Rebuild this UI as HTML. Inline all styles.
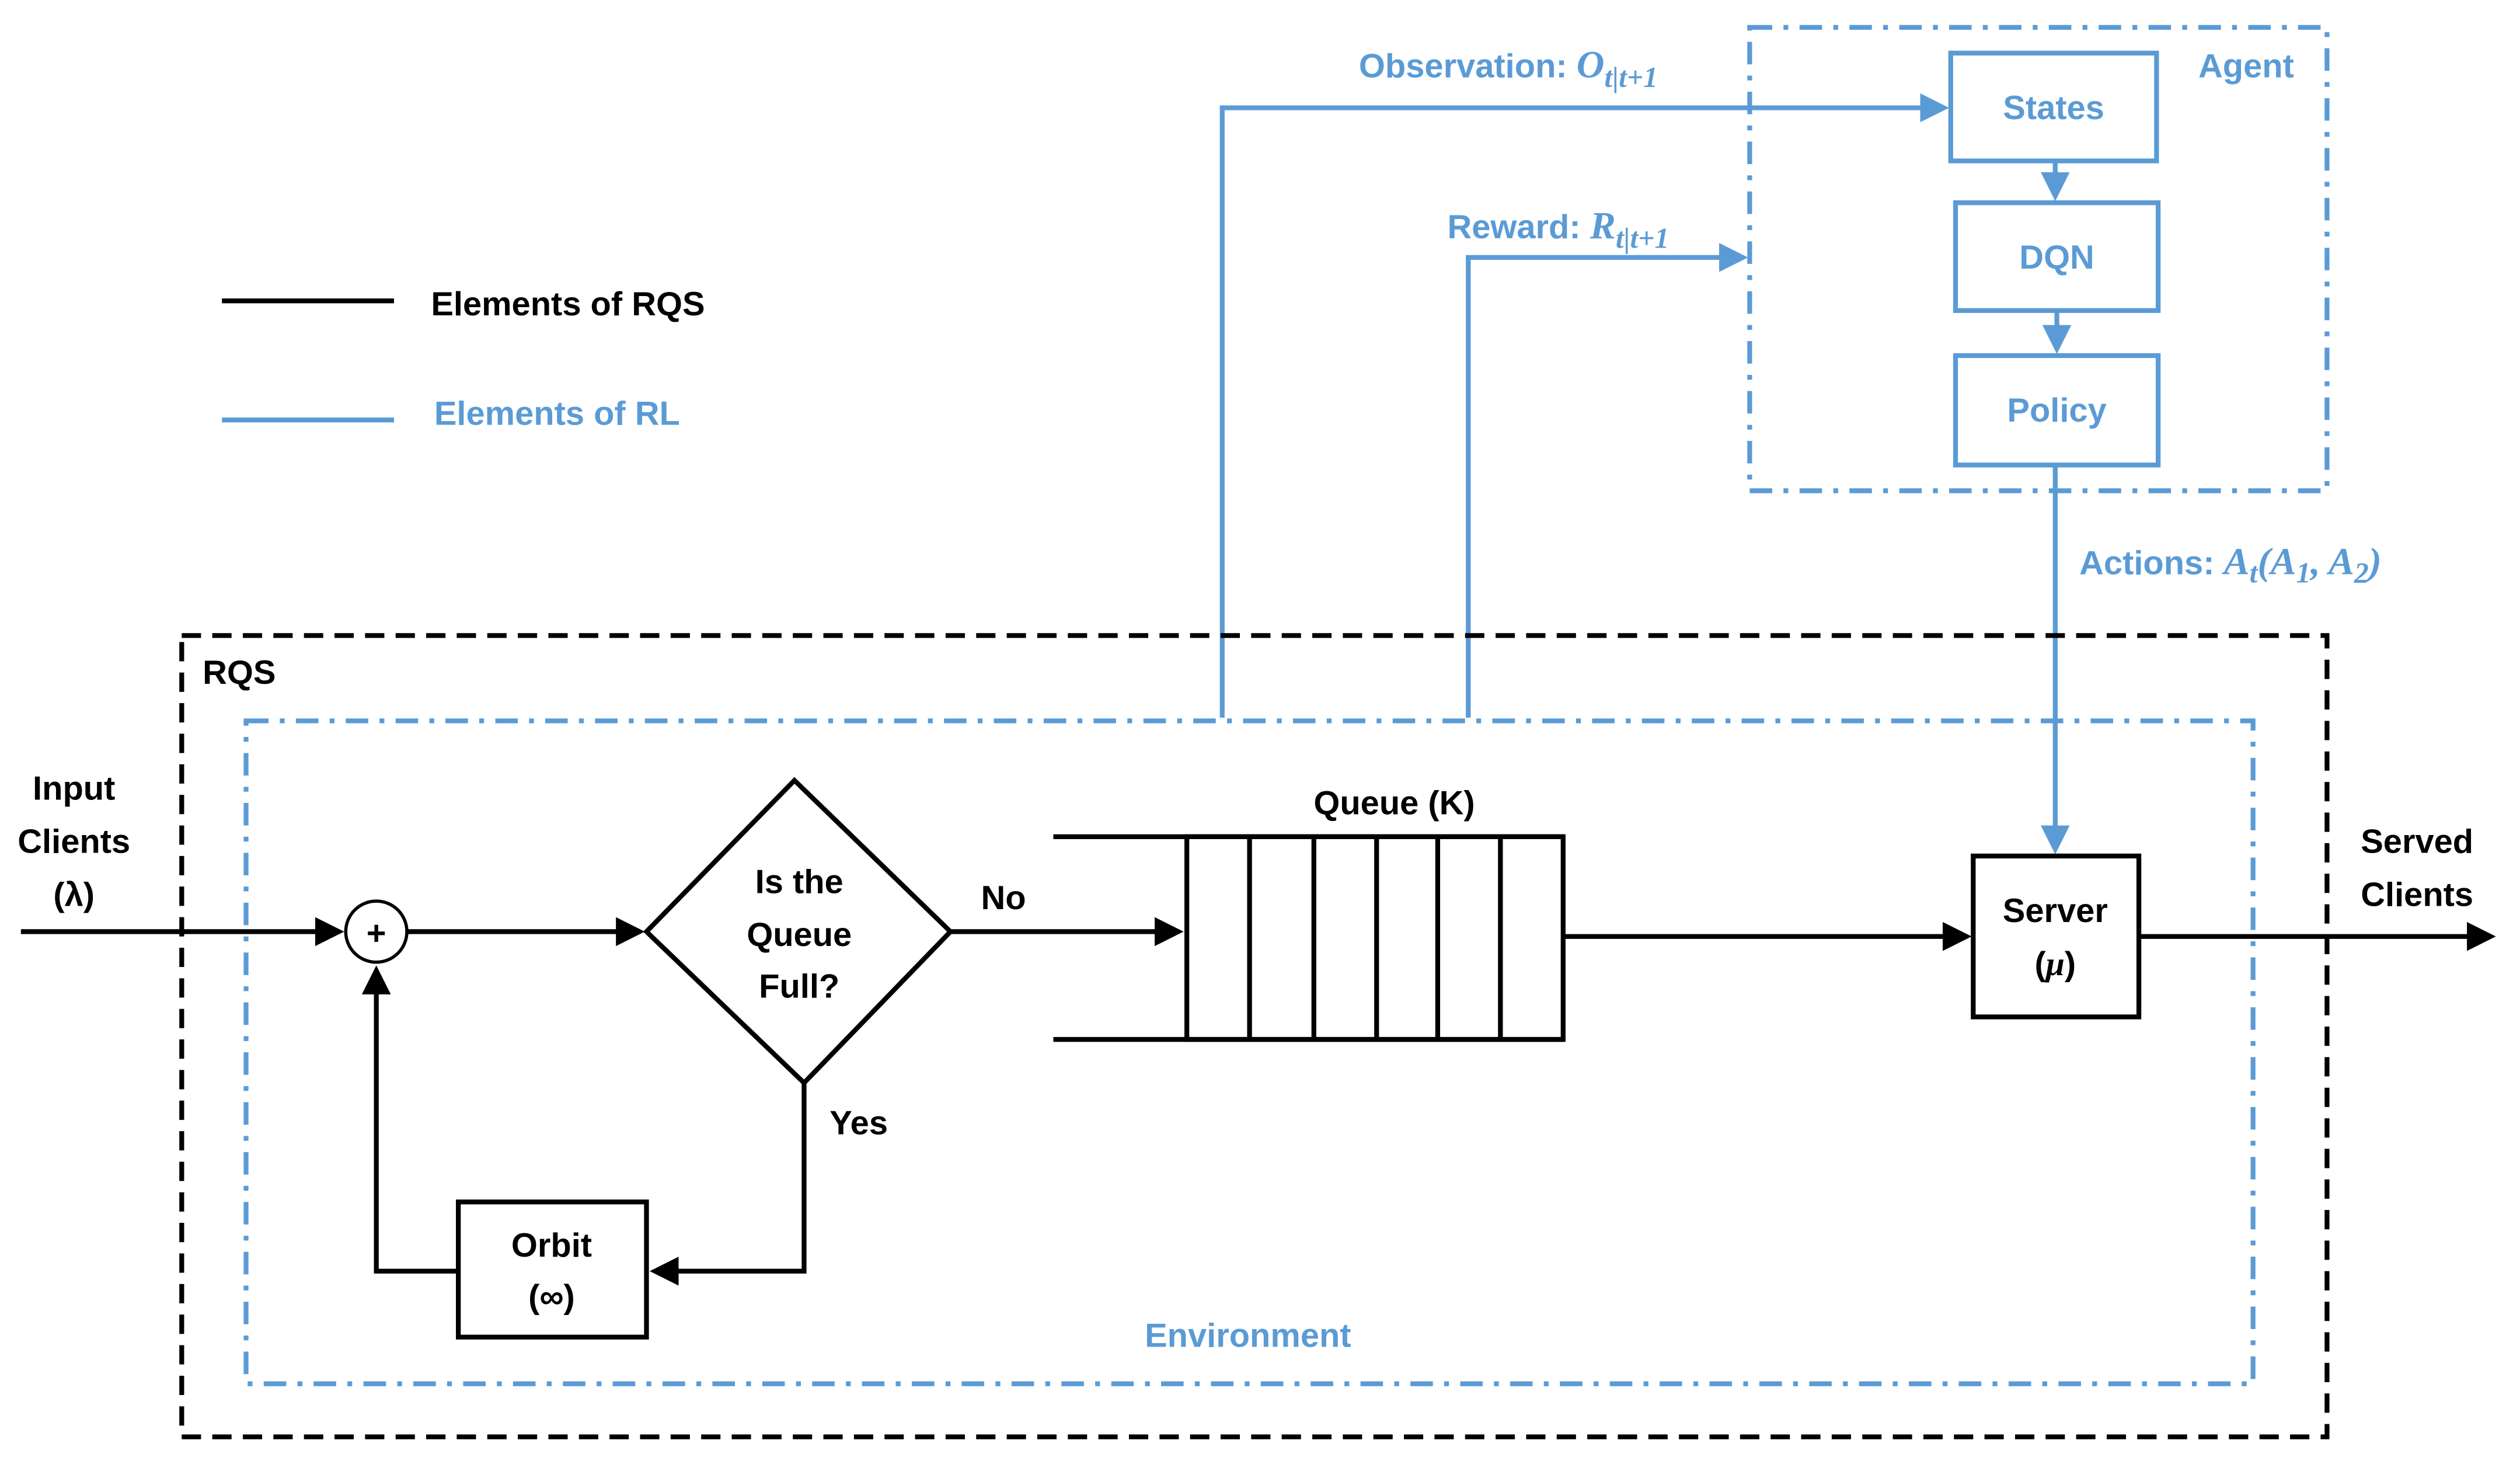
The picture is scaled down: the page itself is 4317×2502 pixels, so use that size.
<!DOCTYPE html>
<html><head><meta charset="utf-8"><style>
html,body{margin:0;padding:0;background:#fff;width:4317px;height:2502px;overflow:hidden}
svg{display:block}
text{font-family:"Liberation Sans",sans-serif;font-weight:bold;font-size:21px}
.m{font-family:"Liberation Serif",serif;font-style:italic;font-weight:bold}
</style></head><body>
<svg width="4317" height="2502" viewBox="0 0 1567 908" preserveAspectRatio="none" xmlns="http://www.w3.org/2000/svg">
<defs>
<marker id="ak" markerWidth="6" markerHeight="6" refX="5" refY="3" orient="auto" markerUnits="strokeWidth"><path d="M0,0 L6,3 L0,6 z" fill="#000"/></marker>
<marker id="ab" markerWidth="6" markerHeight="6" refX="5" refY="3" orient="auto" markerUnits="strokeWidth"><path d="M0,0 L6,3 L0,6 z" fill="#5b9bd5"/></marker>
</defs>
<rect width="1567" height="908" fill="#fff"/>
<!-- legend -->
<line x1="138" y1="187" x2="245" y2="187" stroke="#000" stroke-width="3"/>
<text x="268" y="196" fill="#000">Elements of RQS</text>
<line x1="138" y1="261" x2="245" y2="261" stroke="#5b9bd5" stroke-width="3"/>
<text x="270" y="264" fill="#5b9bd5">Elements of RL</text>
<!-- agent -->
<rect x="1088" y="17" width="359" height="288" fill="none" stroke="#5b9bd5" stroke-width="3" stroke-dasharray="14,7,3,7"/>
<text x="1367" y="48" fill="#5b9bd5">Agent</text>
<g fill="none" stroke="#5b9bd5" stroke-width="3">
<rect x="1213" y="33" width="128" height="67"/>
<rect x="1216" y="126" width="126" height="67"/>
<rect x="1216" y="221" width="126" height="68"/>
</g>
<g fill="#5b9bd5" text-anchor="middle">
<text x="1277" y="74">States</text>
<text x="1279" y="167">DQN</text>
<text x="1279" y="262">Policy</text>
</g>
<g stroke="#5b9bd5" stroke-width="3" fill="none">
<line x1="1278" y1="100" x2="1278" y2="122" marker-end="url(#ab)"/>
<line x1="1279" y1="193" x2="1279" y2="217" marker-end="url(#ab)"/>
<polyline points="760,446 760,67 1209,67" marker-end="url(#ab)"/>
<polyline points="913,446 913,160 1084,160" marker-end="url(#ab)"/>
<line x1="1278" y1="289" x2="1278" y2="528" marker-end="url(#ab)"/>
</g>
<text x="845" y="48" fill="#5b9bd5">Observation: <tspan class="m" font-size="24">O</tspan><tspan class="m" font-size="18" dy="6">t|t+1</tspan></text>
<text x="900" y="148" fill="#5b9bd5">Reward: <tspan class="m" font-size="24">R</tspan><tspan class="m" font-size="18" dy="6">t|t+1</tspan></text>
<text x="1293" y="357" fill="#5b9bd5">Actions: <tspan class="m" font-size="24">A</tspan><tspan class="m" font-size="18" dy="5">t</tspan><tspan class="m" font-size="24" dy="-5">(A</tspan><tspan class="m" font-size="18" dy="5">1</tspan><tspan class="m" font-size="24" dy="-5">, A</tspan><tspan class="m" font-size="18" dy="5">2</tspan><tspan class="m" font-size="24" dy="-5">)</tspan></text>
<!-- RQS -->
<rect x="113" y="395" width="1334" height="498" fill="none" stroke="#000" stroke-width="3" stroke-dasharray="12,7"/>
<text x="126" y="425" fill="#000">RQS</text>
<rect x="153" y="448" width="1248" height="412" fill="none" stroke="#5b9bd5" stroke-width="3" stroke-dasharray="14,7,3,7"/>
<text x="776" y="837" fill="#5b9bd5" text-anchor="middle">Environment</text>
<g fill="#000" text-anchor="middle">
<text x="46" y="497">Input</text>
<text x="46" y="530">Clients</text>
<text x="46" y="563" font-weight="normal">(λ)</text>
<text x="1503" y="530">Served</text>
<text x="1503" y="563">Clients</text>
<text x="497" y="555">Is the</text>
<text x="497" y="588">Queue</text>
<text x="497" y="620">Full?</text>
<text x="624" y="565">No</text>
<text x="534" y="705">Yes</text>
<text x="867" y="506">Queue (K)</text>
<text x="1278" y="573">Server</text>
<text x="1278" y="606" font-weight="normal">(<tspan class="m">μ</tspan>)</text>
<text x="343" y="781">Orbit</text>
<text x="343" y="813" font-weight="normal">(∞)</text>
</g>
<g stroke="#000" stroke-width="3" fill="none">
<line x1="13" y1="579" x2="211" y2="579" marker-end="url(#ak)"/>
<circle cx="234" cy="579" r="19" stroke-width="2"/>
<line x1="253" y1="579" x2="398" y2="579" marker-end="url(#ak)"/>
<polygon points="494,485 591,579 500,673 402,579"/>
<line x1="591" y1="579" x2="733" y2="579" marker-end="url(#ak)"/>
<line x1="655" y1="520" x2="972" y2="520"/>
<line x1="655" y1="646" x2="972" y2="646"/>
<rect x="738" y="520" width="234" height="126"/>
<line x1="777" y1="520" x2="777" y2="646"/>
<line x1="817" y1="520" x2="817" y2="646"/>
<line x1="856" y1="520" x2="856" y2="646"/>
<line x1="894" y1="520" x2="894" y2="646"/>
<line x1="933" y1="520" x2="933" y2="646"/>
<line x1="972" y1="582" x2="1223" y2="582" marker-end="url(#ak)"/>
<rect x="1227" y="532" width="103" height="100"/>
<line x1="1330" y1="582" x2="1549" y2="582" marker-end="url(#ak)"/>
<polyline points="500,673 500,790 407,790" marker-end="url(#ak)"/>
<rect x="285" y="747" width="117" height="84"/>
<polyline points="285,790 234,790 234,603" marker-end="url(#ak)"/>
</g>
<text x="234" y="587" text-anchor="middle" fill="#000" font-size="20">+</text>
</svg>
</body></html>
